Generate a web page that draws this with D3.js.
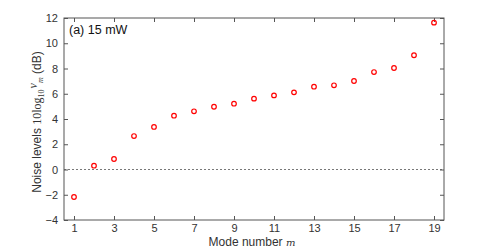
<!DOCTYPE html>
<html><head><meta charset="utf-8">
<script src="https://cdn.jsdelivr.net/npm/d3@7"></script>
<style>body{margin:0;background:#fff}svg{display:block}</style>
</head><body>
<svg id="c" width="491" height="248"></svg>
<script>
const modes = [1,2,3,4,5,6,7,8,9,10,11,12,13,14,15,16,17,18,19];
const noise = [-2.18,0.30,0.83,2.65,3.37,4.26,4.61,4.97,5.21,5.61,5.87,6.11,6.56,6.67,7.01,7.72,8.04,9.05,11.63];
const xTicks = [1,3,5,7,9,11,13,15,17,19];
const yTicks = [-4,-2,0,2,4,6,8,10,12];

const svg = d3.select("#c");
const L=64,R=444,T=18,B=220;
const x = d3.scaleLinear().domain([0.5,19.5]).range([L,R]);
const y = d3.scaleLinear().domain([-4,12]).range([B,T]);
const axCol="#555", txtCol="#333", font="Liberation Sans, Arial, sans-serif";

function styleAxis(g, labels){
  g.select(".domain").remove();
  g.selectAll(".tick line").attr("stroke",axCol);
  g.selectAll(".tick text").attr("fill",txtCol).style("font-family",font).style("font-size","11px");
  if(!labels) g.selectAll(".tick text").remove();
}
svg.append("g").attr("transform",`translate(0,${B})`)
  .call(d3.axisBottom(x).tickValues(xTicks).tickSizeInner(-4).tickSizeOuter(0).tickPadding(4).tickFormat(d3.format("d")))
  .call(g=>styleAxis(g,true));
svg.append("g").attr("transform",`translate(0,${T})`)
  .call(d3.axisTop(x).tickValues(xTicks).tickSizeInner(-4).tickSizeOuter(0))
  .call(g=>styleAxis(g,false));
svg.append("g").attr("transform",`translate(${L},0)`)
  .call(d3.axisLeft(y).tickValues(yTicks).tickSizeInner(-4).tickSizeOuter(0).tickPadding(6).tickFormat(d3.format("d")))
  .call(g=>styleAxis(g,true));
svg.append("g").attr("transform",`translate(${R},0)`)
  .call(d3.axisRight(y).tickValues(yTicks).tickSizeInner(-4).tickSizeOuter(0))
  .call(g=>styleAxis(g,false));
svg.append("rect").attr("x",L).attr("y",T).attr("width",R-L).attr("height",B-T)
  .attr("fill","none").attr("stroke",axCol).attr("stroke-width",1);

svg.append("line").attr("x1",L).attr("x2",R).attr("y1",y(0)).attr("y2",y(0))
  .attr("stroke","#555").attr("stroke-width",0.8).attr("stroke-dasharray","2,2");

svg.append("g").selectAll("circle").data(modes).join("circle")
  .attr("cx",d=>x(d)).attr("cy",(d,i)=>y(noise[i])).attr("r",2.3)
  .attr("fill","none").attr("stroke","#ff0000").attr("stroke-width",1.2);

svg.append("text").attr("x",69).attr("y",34).attr("fill","#111")
  .style("font-family",font).style("font-size","12.5px").text("(a) 15 mW");

const xl = svg.append("text").attr("x",252).attr("y",246).attr("text-anchor","middle")
  .attr("fill",txtCol).style("font-family",font).style("font-size","12px");
xl.append("tspan").text("Mode number ");
xl.append("tspan").style("font-family","DejaVu Serif, serif").style("font-style","italic").style("font-size","10px").text("m");

const yl = svg.append("text").attr("transform",`translate(41,${(T+B)/2+3}) rotate(-90)`).attr("text-anchor","middle")
  .attr("fill",txtCol).style("font-family",font).style("font-size","12px");
yl.append("tspan").text("Noise levels ");
yl.append("tspan").style("font-family","Liberation Serif, serif").text("10log");
yl.append("tspan").style("font-family","Liberation Serif, serif").style("font-size","8px").attr("dy",3).text("10");
yl.append("tspan").style("font-family","Liberation Serif, serif").style("font-style","italic").attr("dy",-7).attr("dx",1).text("ν");
yl.append("tspan").style("font-family","Liberation Serif, serif").style("font-style","italic").style("font-size","8px").attr("dy",6).text("m");
yl.append("tspan").attr("dy",-2).text(" (dB)");
</script>
</body></html>
